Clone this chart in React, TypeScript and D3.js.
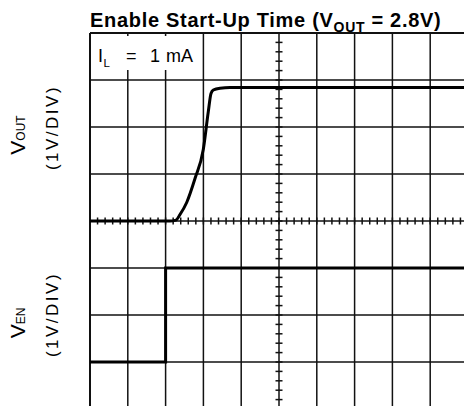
import React from "react";
import * as d3 from "d3";

// ---- data (time in divisions, voltage in volts; 1V/DIV) ----
const voutTime = [0, 2.116, 2.275, 2.381, 2.558, 2.778, 2.997, 3.13, 3.201, 3.262, 3.439, 3.704, 10];
const voutVolts = [0, 0, 0.02, 0.138, 0.394, 0.904, 1.521, 2.33, 2.713, 2.787, 2.826, 2.84, 2.84];
const venTime = [0, 2.0, 2.0, 10];
const venVolts = [0, 0, 2, 2];

const xDivs = d3.range(0, 11);
const yDivs = d3.range(-4, 5);
const minorSteps = d3.range(0, 10.001, 0.2);
const minorStepsY = d3.range(-4, 4.001, 0.2);

const W = 464;
const H = 406;
const FONT = "'Liberation Sans', Arial, Helvetica, sans-serif";

export default function App() {
  const x = d3.scaleLinear().domain([0, 10]).range([90, 468]);
  const y = d3.scaleLinear().domain([-4, 4]).range([409, 33]);
  const voutOffset = 0;
  const venOffset = -3;

  const voutPts: [number, number][] = voutTime.map((t, i) => [t, voutVolts[i] + voutOffset]);
  const venPts: [number, number][] = venTime.map((t, i) => [t, venVolts[i] + venOffset]);

  const lineSmooth = d3
    .line<[number, number]>()
    .x((d) => x(d[0]))
    .y((d) => y(d[1]))
    .curve(d3.curveMonotoneX);
  const lineStep = d3
    .line<[number, number]>()
    .x((d) => x(d[0]))
    .y((d) => y(d[1]));

  const gridColor = "#111";
  const tick = 3.5;

  return (
    <svg
      width={W}
      height={H}
      style={{ position: "absolute", left: 0, top: 0, background: "#fff" }}
      fontFamily={FONT}
    >
      <rect x={0} y={0} width={W} height={H} fill="#fff" />
      {/* title */}
      <text x={90} y={27} fontSize={20} fontWeight="bold" letterSpacing={0.7} fill="#000">
        Enable Start-Up Time (V
        <tspan fontSize={14} dy={4.5}>OUT</tspan>
        <tspan dy={-4.5}> = 2.8V)</tspan>
      </text>

      {/* grid */}
      <g stroke={gridColor} strokeWidth={1.5}>
        {xDivs.map((d) => (
          <line key={"vx" + d} x1={x(d)} x2={x(d)} y1={y(4)} y2={y(-4)} strokeWidth={d === 0 ? 2 : 1.5} />
        ))}
        {yDivs.map((d) => (
          <line key={"hy" + d} x1={x(0)} x2={x(10)} y1={y(d)} y2={y(d)} strokeWidth={d === 4 ? 2 : 1.5} />
        ))}
        {/* minor ticks on center axes */}
        {minorSteps.map((d, i) => (
          <line key={"mx" + i} x1={x(d)} x2={x(d)} y1={y(0) - tick} y2={y(0) + tick} />
        ))}
        {minorStepsY.map((d, i) => (
          <line key={"my" + i} x1={x(5) - tick} x2={x(5) + tick} y1={y(d)} y2={y(d)} />
        ))}
      </g>

      {/* traces */}
      <path d={lineSmooth(voutPts) || ""} fill="none" stroke="#000" strokeWidth={3} strokeLinejoin="round" />
      <path d={lineStep(venPts) || ""} fill="none" stroke="#000" strokeWidth={3} />

      {/* load label box */}
      <rect x={x(0) + 1.5} y={36} width={x(3) - x(0) - 3} height={34} fill="#fff" />
      <g fill="#000" fontSize={18}>
        <text x={98} y={61.5}>I</text>
        <text x={103.5} y={66.5} fontSize={11.5}>L</text>
        <text x={126} y={61.5}>=</text>
        <text x={150} y={61.5}>1</text>
        <text x={166} y={61.5}>mA</text>
      </g>

      {/* y labels */}
      <g fill="#000">
        <text transform={`translate(25,135) rotate(-90)`} textAnchor="middle" fontSize={21}>
          V<tspan fontSize={12} dy={0}>OUT</tspan>
        </text>
        <text transform={`translate(58,127.5) rotate(-90)`} textAnchor="middle" fontSize={17} letterSpacing={2.5}>
          (1V/DIV)
        </text>
        <text transform={`translate(25,323) rotate(-90)`} textAnchor="middle" fontSize={21}>
          V<tspan fontSize={12} dy={0}>EN</tspan>
        </text>
        <text transform={`translate(58,314.5) rotate(-90)`} textAnchor="middle" fontSize={17} letterSpacing={2.5}>
          (1V/DIV)
        </text>
      </g>
    </svg>
  );
}
